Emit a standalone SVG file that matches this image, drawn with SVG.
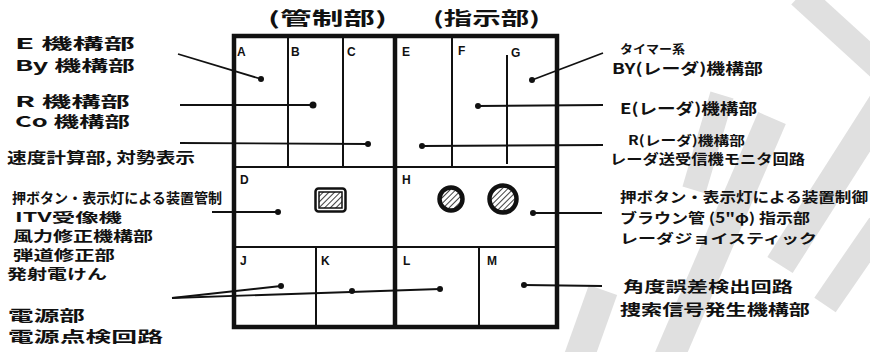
<svg xmlns="http://www.w3.org/2000/svg" width="870" height="352" viewBox="0 0 870 352">
<style>
.wm{stroke:#e0e0e0;fill:none;stroke-linecap:butt}
.jp{font-family:"Noto Sans CJK JP","Noto Sans",sans-serif;font-weight:bold;fill:#111}
.lt{font-family:"Liberation Sans",Arial,sans-serif;font-weight:bold;font-size:12px;fill:#111}
.thick{stroke:#111;fill:none;stroke-width:4.5}
.thin{stroke:#111;fill:none;stroke-width:2}
.conn{stroke:#111;fill:none;stroke-width:1.8}
.dot{fill:#111}
</style>
<defs>
<pattern id="hatch" width="4" height="4" patternUnits="userSpaceOnUse" patternTransform="rotate(45)">
<rect width="4" height="4" fill="#fff"/>
<line x1="0" y1="0" x2="0" y2="4" stroke="#111" stroke-width="1.6"/>
</pattern>
</defs>
<rect width="870" height="352" fill="#fff"/>
<g id="watermark">
<path class="wm" stroke-width="26" d="M800 -5 L880 68"/>
<path class="wm" stroke-width="30" d="M885 100 L780 265"/>
<path class="wm" stroke-width="30" d="M772 118 L668 360"/>
<path class="wm" stroke-width="26" d="M880 225 L825 305"/>
<path class="wm" stroke-width="30" d="M603 290 L578 360"/>
<path class="wm" stroke-width="24" d="M722 95 L694 190"/>
</g>
<g id="titles">
<text class="jp" x="268" y="25" font-size="18" textLength="119" lengthAdjust="spacingAndGlyphs">(管制部)</text>
<text class="jp" x="433" y="25" font-size="18" textLength="107" lengthAdjust="spacingAndGlyphs">(指示部)</text>
</g>
<g id="frame">
<rect class="thick" x="234" y="36" width="323" height="291"/>
<line class="thick" x1="395" y1="36" x2="395" y2="327" stroke-width="4"/>
<line class="thin" x1="234" y1="167" x2="557" y2="167" stroke-width="2.5"/>
<line class="thin" x1="234" y1="247" x2="557" y2="247" stroke-width="2.5"/>
</g>
<g id="A"><text class="lt" x="237" y="56">A</text></g>
<g id="B"><line class="thin" x1="288" y1="36" x2="288" y2="167"/><text class="lt" x="291" y="56">B</text></g>
<g id="C"><line class="thin" x1="343" y1="36" x2="343" y2="168"/><text class="lt" x="347" y="56">C</text></g>
<g id="E"><text class="lt" x="402" y="56">E</text></g>
<g id="F"><line class="thin" x1="452" y1="36" x2="452" y2="167"/><text class="lt" x="458" y="55">F</text></g>
<g id="G"><line class="thin" x1="507" y1="55" x2="507" y2="164"/><text class="lt" x="511" y="57">G</text></g>
<g id="D">
<text class="lt" x="240" y="184">D</text>
<rect x="315.5" y="188.5" width="30" height="23" rx="3" fill="#fff" stroke="#111" stroke-width="2.5"/>
<rect x="319" y="192" width="23" height="16" fill="url(#hatch)" stroke="#111" stroke-width="1.5"/>
</g>
<g id="H">
<text class="lt" x="402" y="184">H</text>
<circle cx="451" cy="199" r="11.5" fill="url(#hatch)" stroke="#111" stroke-width="4.5"/>
<circle cx="503" cy="199" r="13.5" fill="url(#hatch)" stroke="#111" stroke-width="4.5"/>
</g>
<g id="J"><text class="lt" x="240" y="265">J</text></g>
<g id="K"><line class="thin" x1="316" y1="247" x2="316" y2="327"/><text class="lt" x="321" y="265">K</text></g>
<g id="L"><text class="lt" x="403" y="265">L</text></g>
<g id="M"><line class="thin" x1="479" y1="247" x2="479" y2="327"/><text class="lt" x="487" y="265">M</text></g>
<g id="connectors">
<line class="conn" x1="178" y1="54" x2="261" y2="79"/><circle class="dot" cx="261" cy="79" r="3"/>
<line class="conn" x1="180" y1="105" x2="313" y2="105"/><circle class="dot" cx="313" cy="105" r="3.5"/>
<line class="conn" x1="180" y1="143" x2="368" y2="144"/><circle class="dot" cx="368" cy="144" r="3"/>
<line class="conn" x1="212" y1="212" x2="278" y2="212"/><circle class="dot" cx="278" cy="212" r="3"/>
<line class="conn" x1="172" y1="298" x2="281" y2="286"/><circle class="dot" cx="281" cy="286" r="3"/>
<line class="conn" x1="172" y1="298" x2="440" y2="289"/><circle class="dot" cx="352" cy="291" r="3"/><circle class="dot" cx="440" cy="289" r="3"/>
<line class="conn" x1="603" y1="53" x2="532" y2="80"/><circle class="dot" cx="532" cy="80" r="3"/>
<line class="conn" x1="603" y1="105" x2="478" y2="106"/><circle class="dot" cx="478" cy="106" r="3"/>
<line class="conn" x1="603" y1="145" x2="422" y2="146"/><circle class="dot" cx="422" cy="146" r="3"/>
<line class="conn" x1="602" y1="213" x2="533" y2="213"/><circle class="dot" cx="533" cy="213" r="3"/>
<line class="conn" x1="602" y1="286" x2="524" y2="285"/><circle class="dot" cx="524" cy="285" r="3"/>
</g>
<g id="labels-left">
<text class="jp" x="15" y="49" font-size="15" textLength="120" lengthAdjust="spacingAndGlyphs">E 機構部</text>
<text class="jp" x="15" y="71" font-size="15" textLength="120" lengthAdjust="spacingAndGlyphs">By 機構部</text>
<text class="jp" x="15" y="107" font-size="15" textLength="115" lengthAdjust="spacingAndGlyphs">R 機構部</text>
<text class="jp" x="15" y="127" font-size="15" textLength="115" lengthAdjust="spacingAndGlyphs">Co 機構部</text>
<text class="jp" x="7" y="163" font-size="15" textLength="188" lengthAdjust="spacingAndGlyphs">速度計算部, 対勢表示</text>
<text class="jp" x="12" y="203" font-size="14" textLength="210" lengthAdjust="spacingAndGlyphs">押ボタン・表示灯による装置管制</text>
<text class="jp" x="15" y="222" font-size="13" textLength="107" lengthAdjust="spacingAndGlyphs">ITV受像機</text>
<text class="jp" x="13" y="241" font-size="14" textLength="140" lengthAdjust="spacingAndGlyphs">風力修正機構部</text>
<text class="jp" x="13" y="260" font-size="14" textLength="102" lengthAdjust="spacingAndGlyphs">弾道修正部</text>
<text class="jp" x="7" y="279" font-size="14" textLength="100" lengthAdjust="spacingAndGlyphs">発射電けん</text>
<text class="jp" x="8" y="321" font-size="15" textLength="77" lengthAdjust="spacingAndGlyphs">電源部</text>
<text class="jp" x="8" y="342" font-size="15" textLength="155" lengthAdjust="spacingAndGlyphs">電源点検回路</text>
</g>
<g id="labels-right">
<text class="jp" x="620" y="54" font-size="12" textLength="65" lengthAdjust="spacingAndGlyphs">タイマー系</text>
<text class="jp" x="612" y="74" font-size="15" textLength="151" lengthAdjust="spacingAndGlyphs">BY(レーダ)機構部</text>
<text class="jp" x="620" y="114" font-size="15" textLength="137" lengthAdjust="spacingAndGlyphs">E(レーダ)機構部</text>
<text class="jp" x="628" y="145" font-size="13" textLength="117" lengthAdjust="spacingAndGlyphs">R(レーダ)機構部</text>
<text class="jp" x="610" y="164" font-size="14" textLength="195" lengthAdjust="spacingAndGlyphs">レーダ送受信機モニタ回路</text>
<text class="jp" x="620" y="202" font-size="14" textLength="248" lengthAdjust="spacingAndGlyphs">押ボタン・表示灯による装置制御</text>
<text class="jp" x="620" y="223" font-size="14" textLength="190" lengthAdjust="spacingAndGlyphs">ブラウン管 (5"φ) 指示部</text>
<text class="jp" x="620" y="243" font-size="13" textLength="197" lengthAdjust="spacingAndGlyphs">レーダジョイスティック</text>
<text class="jp" x="623" y="292" font-size="15" textLength="170" lengthAdjust="spacingAndGlyphs">角度誤差検出回路</text>
<text class="jp" x="620" y="315" font-size="15" textLength="190" lengthAdjust="spacingAndGlyphs">捜索信号発生機構部</text>
</g>
</svg>
